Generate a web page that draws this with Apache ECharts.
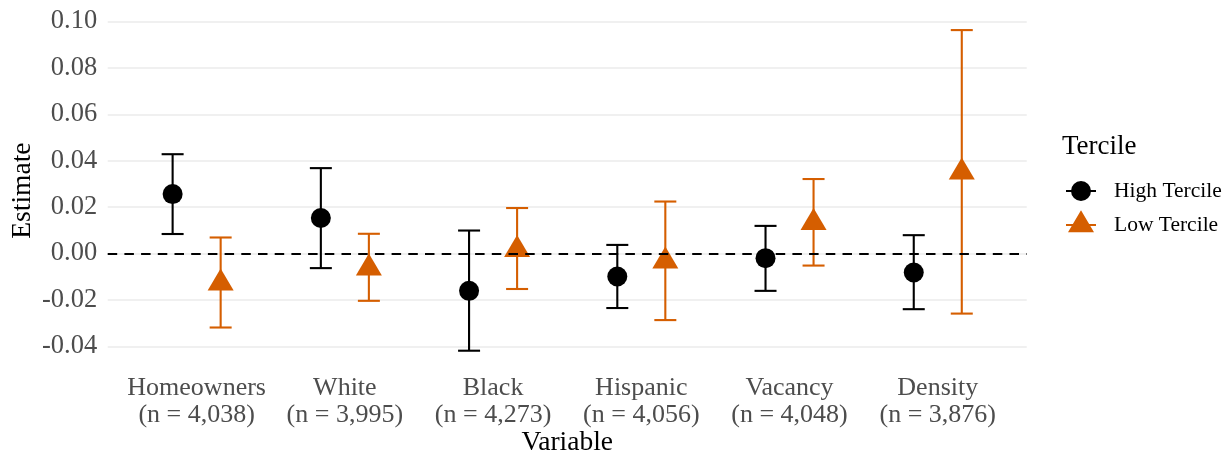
<!DOCTYPE html>
<html>
<head>
<meta charset="utf-8">
<script src="https://cdn.jsdelivr.net/npm/echarts@6/dist/echarts.min.js"></script>
<style>
html,body{margin:0;padding:0;background:#fff;}
#chart{width:1228px;height:455px;}
</style>
</head>
<body>
<div id="chart"></div>
<script>
// ---- data ----
const categories = ['Homeowners', 'White', 'Black', 'Hispanic', 'Vacancy', 'Density'];
const sampleSizes = ['4,038', '3,995', '4,273', '4,056', '4,048', '3,876'];
const seriesNames = ['High Tercile', 'Low Tercile'];
const highEst = [0.0256, 0.0153, -0.0161, -0.0099, -0.0020, -0.0082];
const highLow = [0.0084, -0.0063, -0.0419, -0.0235, -0.0161, -0.0240];
const highHigh = [0.0428, 0.0368, 0.0099, 0.0037, 0.0119, 0.0079];
const lowEst = [-0.0128, -0.0063, 0.0017, -0.0033, 0.0133, 0.0351];
const lowLow = [-0.0319, -0.0204, -0.0153, -0.0287, -0.0052, -0.0259];
const lowHigh = [0.0069, 0.0085, 0.0196, 0.0224, 0.0321, 0.0963];
const yTickMin = -0.04, yTickMax = 0.10, yTickStep = 0.02;

// ---- styling ----
const FONT = 'Liberation Serif';
const C_HIGH = '#000000';
const C_LOW = '#D55E00';
const DODGE = 0.162;
const CAP = 11;

const chart = echarts.init(document.getElementById('chart'), null, {renderer: 'canvas'});

function errorBarSeries(name, color, offset, lo, hi) {
  return {
    type: 'custom',
    name: name + ' CI',
    clip: false,
    silent: true,
    z: 2,
    data: categories.map((c, i) => [i + offset, lo[i], hi[i]]),
    renderItem: function (params, api) {
      const x = api.value(0);
      const pLo = api.coord([x, api.value(1)]);
      const pHi = api.coord([x, api.value(2)]);
      const st = {stroke: color, lineWidth: 2.1, fill: null};
      return {
        type: 'group',
        children: [
          {type: 'line', shape: {x1: pLo[0], y1: pLo[1], x2: pHi[0], y2: pHi[1]}, style: st},
          {type: 'line', shape: {x1: pHi[0] - CAP, y1: pHi[1], x2: pHi[0] + CAP, y2: pHi[1]}, style: st},
          {type: 'line', shape: {x1: pLo[0] - CAP, y1: pLo[1], x2: pLo[0] + CAP, y2: pLo[1]}, style: st}
        ]
      };
    }
  };
}

const highIcon = 'path://M0,9H6V11H0Z M24,9H30V11H24Z M5,10 A10,10 0 1,1 25,10 A10,10 0 1,1 5,10 Z';
const lowIcon = 'path://M15,0 L28,22 L2,22 Z M0,13.7H8V15.7H0Z M22,13.7H30V15.7H22Z';

const option = {
  animation: false,
  backgroundColor: '#ffffff',
  textStyle: {fontFamily: FONT},
  grid: {left: 107.7, right: 201.3, top: 21.5, bottom: 108.7, containLabel: false},
  title: {
    text: 'Tercile',
    left: 1062,
    top: 133,
    padding: 0,
    textStyle: {fontFamily: FONT, fontSize: 27, fontWeight: 'normal', color: '#000'}
  },
  legend: [
    {
      orient: 'vertical', left: 1066, top: 180, padding: 0,
      itemWidth: 30, itemHeight: 22, itemGap: 8,
      selectedMode: false,
      data: [{name: seriesNames[0], icon: highIcon, itemStyle: {color: C_HIGH}}],
      formatter: n => '{t|' + n + '}',
      textStyle: {rich: {t: {fontFamily: FONT, fontSize: 21.5, color: '#000', padding: [0, 0, 0, 13]}}}
    },
    {
      orient: 'vertical', left: 1066, top: 210.3, padding: 0,
      itemWidth: 30, itemHeight: 22, itemGap: 8,
      selectedMode: false,
      data: [{name: seriesNames[1], icon: lowIcon, itemStyle: {color: C_LOW}}],
      formatter: n => '{t|' + n + '}',
      textStyle: {rich: {t: {fontFamily: FONT, fontSize: 21.5, color: '#000', padding: [8, 0, 0, 13]}}}
    }
  ],
  xAxis: {
    type: 'value',
    min: -0.6,
    max: categories.length - 1 + 0.6,
    axisLine: {show: false},
    axisTick: {show: false},
    splitLine: {show: false},
    axisLabel: {
      customValues: categories.map((c, i) => i),
      formatter: v => categories[Math.round(v)] + '\n(n = ' + sampleSizes[Math.round(v)] + ')',
      fontFamily: FONT, fontSize: 26, color: '#4d4d4d', lineHeight: 27, margin: 28
    }
  },
  yAxis: {
    type: 'value',
    min: yTickMin, max: yTickMax, interval: yTickStep,
    axisLine: {show: false},
    axisTick: {show: false},
    splitLine: {show: true, lineStyle: {color: '#ebebeb', width: 1.5}},
    axisLabel: {
      formatter: v => v.toFixed(2),
      fontFamily: FONT, fontSize: 26.5, color: '#4d4d4d', margin: 10.5
    }
  },
  graphic: [
    {type: 'text', x: 22.5, y: 190.6, rotation: Math.PI / 2,
     style: {text: 'Estimate', fontFamily: FONT, fontSize: 27.5, fill: '#000', align: 'center', verticalAlign: 'middle'}},
    {type: 'text', x: 567.2, y: 443,
     style: {text: 'Variable', fontFamily: FONT, fontSize: 27.5, fill: '#000', align: 'center', verticalAlign: 'middle'}}
  ],
  series: [
    {
      type: 'line', name: 'zero', data: [], silent: true, z: 1,
      markLine: {
        silent: true, symbol: 'none', label: {show: false},
        lineStyle: {type: [9.5, 7.2], color: '#000', width: 2},
        data: [{yAxis: 0}]
      }
    },
    errorBarSeries(seriesNames[0], C_HIGH, -DODGE, highLow, highHigh),
    errorBarSeries(seriesNames[1], C_LOW, DODGE, lowLow, lowHigh),
    {
      type: 'scatter', name: seriesNames[0], clip: false, z: 3,
      symbol: 'circle', symbolSize: 20,
      itemStyle: {color: C_HIGH, opacity: 1},
      data: categories.map((c, i) => [i - DODGE, highEst[i]])
    },
    {
      type: 'scatter', name: seriesNames[1], clip: false, z: 3,
      symbol: 'triangle', symbolSize: [26, 22], symbolOffset: [0, -3.67],
      itemStyle: {color: C_LOW, opacity: 1},
      data: categories.map((c, i) => [i + DODGE, lowEst[i]])
    }
  ]
};
chart.setOption(option);
</script>
</body>
</html>
